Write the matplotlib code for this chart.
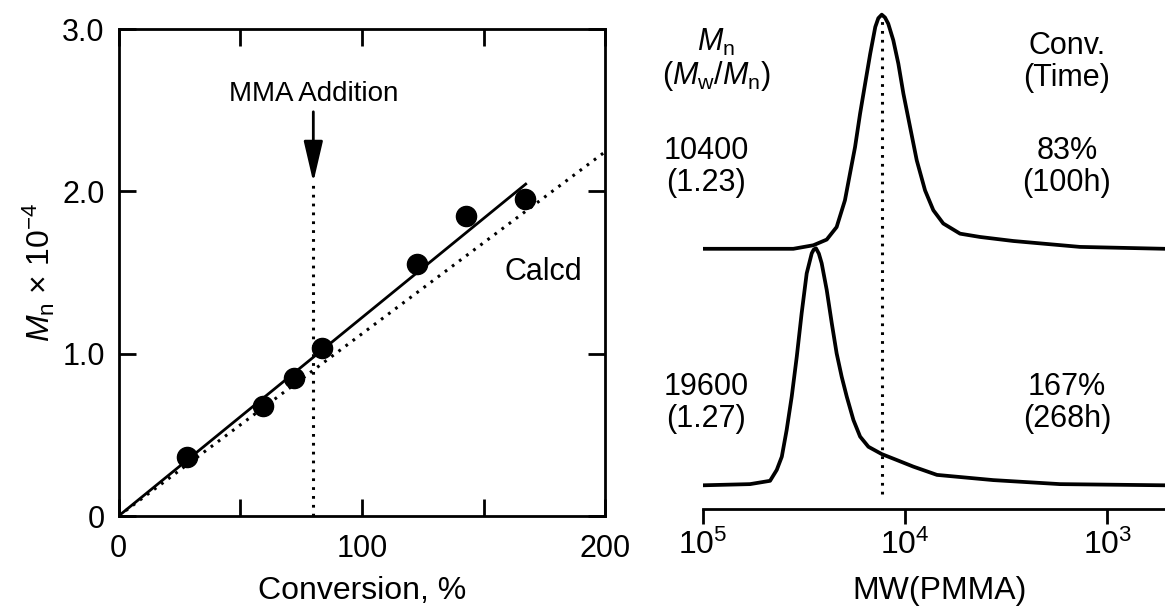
import matplotlib
matplotlib.use("Agg")
import matplotlib.pyplot as plt
import numpy as np

plt.rcParams['font.family'] = ['Liberation Sans', 'DejaVu Sans']
plt.rcParams['mathtext.fontset'] = 'custom'
plt.rcParams['mathtext.rm'] = 'Liberation Sans'
plt.rcParams['mathtext.it'] = 'Liberation Sans:italic'
plt.rcParams['font.size'] = 21

# left panel: Mn vs conversion
conv = [28.2, 59.4, 72.2, 83.4, 122.7, 142.7, 167.0]
mn = [0.365, 0.680, 0.848, 1.033, 1.551, 1.850, 1.953]
fit_x = [0, 167.7]
fit_y = [0, 2.05]
calc_x = [0, 200]
calc_y = [0, 2.245]
mma_conv = 80

# right panel: GPC traces (log10 MW, normalised height)
logmw_a = [5.0, 4.552, 4.453, 4.387, 4.338, 4.297, 4.272, 4.247, 4.222, 4.197, 4.172,
           4.147, 4.132, 4.115, 4.099, 4.083, 4.058, 4.033, 4.008, 3.975, 3.942, 3.901,
           3.860, 3.811, 3.728, 3.629, 3.465, 3.135, 2.715]
h_a = [0, 0, 0.015, 0.039, 0.092, 0.205, 0.318, 0.430, 0.572, 0.699, 0.825,
       0.938, 0.975, 0.990, 0.978, 0.952, 0.882, 0.783, 0.656, 0.515, 0.374, 0.247,
       0.163, 0.107, 0.064, 0.050, 0.033, 0.008, 0]
logmw_b = [5.0, 4.766, 4.667, 4.634, 4.609, 4.585, 4.560, 4.535, 4.511, 4.486, 4.461,
           4.451, 4.440, 4.426, 4.412, 4.387, 4.362, 4.338, 4.313, 4.288, 4.255, 4.222,
           4.181, 4.115, 4.041, 3.959, 3.842, 3.564, 3.234, 2.715]
h_b = [0, 0.005, 0.019, 0.065, 0.121, 0.234, 0.375, 0.544, 0.727, 0.896, 0.981,
       0.997, 1.002, 0.980, 0.939, 0.826, 0.685, 0.558, 0.459, 0.375, 0.276, 0.206,
       0.163, 0.132, 0.107, 0.079, 0.044, 0.022, 0.005, 0]
offset_a = 1.0
peak_mw = 10 ** 4.115

W, H = 1165, 610
fig = plt.figure(figsize=(W / 100, H / 100), dpi=100)

ax = fig.add_axes([118.6 / W, 1 - 516 / H, (605.4 - 118.6) / W, (516 - 29) / H])
ax.plot(fit_x, fit_y, color='black', lw=2.0, solid_capstyle='butt')
ax.plot(calc_x, calc_y, color='black', lw=2.2, linestyle=(0, (0.9, 2.0)))
ax.plot([mma_conv, mma_conv], [0, 2.056], color='black', lw=2.2, linestyle=(0, (0.9, 2.0)))
ax.plot(conv, mn, 'o', color='black', markersize=14.5)
ax.annotate('', xy=(mma_conv, 2.056), xytext=(mma_conv, 2.49),
            arrowprops=dict(arrowstyle='-|>,head_length=1.2,head_width=0.28',
                            color='black', lw=2.0, shrinkA=0, shrinkB=0))
ax.text(mma_conv, 2.60, 'MMA Addition', ha='center', va='center', fontsize=20)
ax.text(174.5, 1.505, 'Calcd', ha='center', va='center', fontsize=22)

ax.set_xlim(0, 200)
ax.set_ylim(0, 3)
ax.set_xticks([0, 50, 100, 150, 200])
ax.set_xticklabels(['0', '', '100', '', '200'])
ax.set_yticks([0, 1, 2, 3])
ax.set_yticklabels(['0', '1.0', '2.0', '3.0'])
ax.tick_params(direction='in', length=12, width=2.0, top=True, right=True,
               labelsize=22)
ax.tick_params(axis='x', pad=13)
ax.tick_params(axis='y', pad=10)
for s in ax.spines.values():
    s.set_linewidth(2.0)
ax.set_ylabel(r'$M_\mathrm{n}$ × 10$^{-4}$', fontsize=23, labelpad=4)
fig.text(362 / W, 1 - 591 / H, 'Conversion, %', ha='center', va='center', fontsize=23)

# right panel
ax2 = fig.add_axes([702.7 / W, 1 - 509 / H, (W - 702.7) / W, 509 / H])
mw_a = 10 ** np.array(logmw_a)
mw_b = 10 ** np.array(logmw_b)
ax2.plot(mw_b, h_b, color='black', lw=2.7, solid_joinstyle='round')
ax2.plot(mw_a, np.array(h_a) + offset_a, color='black', lw=2.7, solid_joinstyle='round')
ax2.plot([peak_mw, peak_mw], [-0.035, 1.99], color='black', lw=2.2,
         linestyle=(0, (0.9, 2.0)))
ax2.set_xscale('log')
ax2.set_xlim(1e5, 10 ** 2.715)
ax2.set_ylim(-0.1002, 2.052)
ax2.set_xticks([1e5, 1e4, 1e3])
ax2.set_xticklabels(['10$^{5}$', '10$^{4}$', '10$^{3}$'])
ax2.xaxis.set_minor_locator(matplotlib.ticker.NullLocator())
ax2.set_yticks([])
for k in ['top', 'right', 'left']:
    ax2.spines[k].set_visible(False)
ax2.spines['bottom'].set_linewidth(2.0)
ax2.tick_params(axis='x', direction='out', length=11, width=2.0, pad=4, labelsize=23)
ax2.patch.set_alpha(0)

fig.text(940 / W, 1 - 591 / H, 'MW(PMMA)', ha='center', va='center', fontsize=23)

lx, rx = 716 / W, 1067 / W
ls = 1.05
fig.text(lx, 1 - 42 / H, r'$M_\mathrm{n}$', ha='center', va='center', fontsize=22)
fig.text(lx, 1 - 76 / H, r'($M_\mathrm{w}$/$M_\mathrm{n}$)', ha='center', va='center',
         fontsize=22)
fig.text(lx - 10 / W, 1 - 167 / H, '10400\n(1.23)', ha='center', va='center', fontsize=22,
         linespacing=ls)
fig.text(lx - 10 / W, 1 - 403 / H, '19600\n(1.27)', ha='center', va='center', fontsize=22,
         linespacing=ls)
fig.text(rx, 1 - 62 / H, 'Conv.\n(Time)', ha='center', va='center', fontsize=22,
         linespacing=ls)
fig.text(rx, 1 - 167 / H, '83%\n(100h)', ha='center', va='center', fontsize=22,
         linespacing=ls)
fig.text(rx, 1 - 403 / H, '167%\n(268h)', ha='center', va='center', fontsize=22,
         linespacing=ls)

fig.savefig('out.png', dpi=100)
